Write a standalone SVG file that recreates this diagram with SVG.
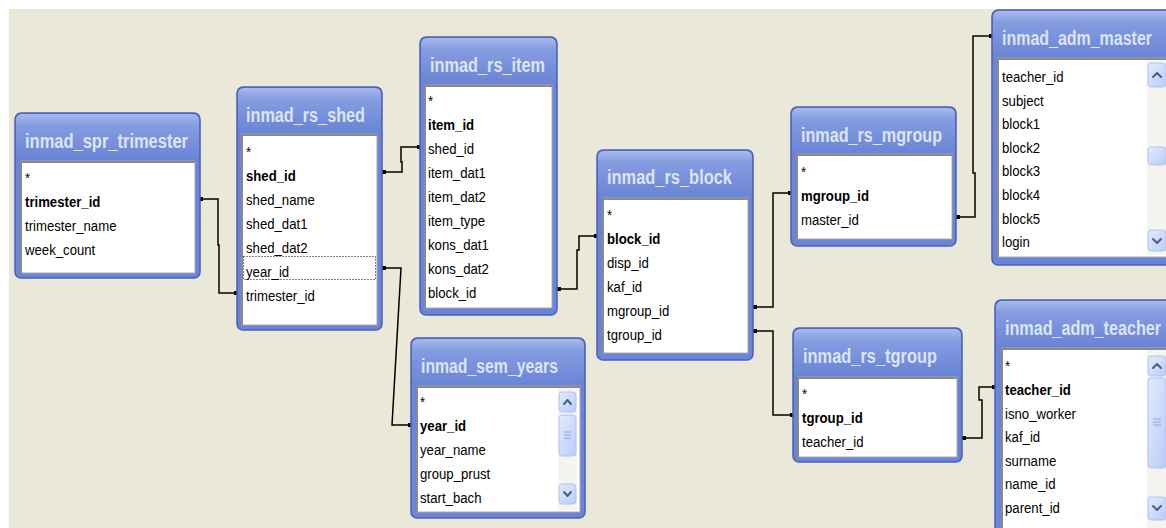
<svg xmlns="http://www.w3.org/2000/svg" width="1166" height="528" viewBox="0 0 1166 528">
<style>
.frame{fill:#6A84D6;stroke:#4B5FBC;stroke-width:1.5}
.tbar{fill:url(#tg)}
.ttl{font-family:"Liberation Sans",Arial,sans-serif;font-weight:bold;font-size:20px;fill:#DCE4F7}
.list{fill:#FFFFFF;stroke:#A8A8A8;stroke-width:1}
.sunk{stroke:#8A8A8A;stroke-width:2;fill:none}
.fld{font-family:"Liberation Sans",Arial,sans-serif;font-size:15.5px;fill:#000}
.b{font-weight:bold}
.track{fill:#F5F4EE}
.btn{fill:url(#bg);stroke:#B0C4F2;stroke-width:1}
.arr{fill:none;stroke:#4D6185;stroke-width:2;stroke-linecap:round;stroke-linejoin:round}
.grip{stroke:#8EA6E0;stroke-width:1}
.conn{fill:none;stroke:#000;stroke-width:1.5;marker-start:url(#dot);marker-end:url(#dot)}
.focus{fill:none;stroke:#000;stroke-width:1;stroke-dasharray:1 2}
</style>
<defs>
<linearGradient id="tg" x1="0" y1="0" x2="0" y2="1">
<stop offset="0" stop-color="#A8BAEE"/>
<stop offset="0.25" stop-color="#849CE0"/>
<stop offset="1" stop-color="#6A84D6"/>
</linearGradient>
<linearGradient id="bg" x1="0" y1="0" x2="1" y2="1">
<stop offset="0" stop-color="#E3EBFE"/>
<stop offset="1" stop-color="#B9CCF7"/>
</linearGradient>
<marker id="dot" viewBox="0 0 4 4" refX="2" refY="2" markerWidth="4" markerHeight="4" markerUnits="userSpaceOnUse">
<rect x="0" y="0" width="4" height="4" fill="#000"/>
</marker>
</defs>
<rect x="0" y="0" width="1166" height="528" fill="#FFFFFF"/>
<rect x="9" y="9" width="1157" height="519" fill="#EAE8D8"/>

<g id="connectors">
<path class="conn" d="M201,199 H218 V245 H219 V293 H236"/>
<path class="conn" d="M384,172 H402 V162 H401 V147 H419"/>
<path class="conn" d="M384,268 H401 L392,425 H410"/>
<path class="conn" d="M559,289 H577 V250 H579 V236 H596"/>
<path class="conn" d="M755,307 H773 V193 H790"/>
<path class="conn" d="M755,331 H773 V415 H792"/>
<path class="conn" d="M958,217 H975 V173 H973 V36 H991"/>
<path class="conn" d="M964,438 H982 V400 H979 V387 H994"/>
</g>

<g id="inmad_spr_trimester">
<rect class="frame" x="15" y="113" width="185" height="165" rx="6"/>
<rect class="tbar" x="16" y="114" width="183" height="46" rx="6"/>
<text class="ttl" x="25" y="148" textLength="163" lengthAdjust="spacingAndGlyphs">inmad_spr_trimester</text>
<rect class="list" x="21" y="161" width="174" height="112"/>
<path class="sunk" d="M21,273 V162 H195"/>
<g class="fld" transform="translate(25,0) scale(0.85,1)">
<text x="0" y="183">*</text>
<text class="b" x="0" y="207">trimester_id</text>
<text x="0" y="231">trimester_name</text>
<text x="0" y="255">week_count</text>
</g>
</g>

<g id="inmad_rs_shed">
<rect class="frame" x="237" y="87" width="145" height="243" rx="6"/>
<rect class="tbar" x="238" y="88" width="143" height="45" rx="6"/>
<text class="ttl" x="246" y="122" textLength="119" lengthAdjust="spacingAndGlyphs">inmad_rs_shed</text>
<rect class="list" x="242" y="134" width="135" height="191"/>
<path class="sunk" d="M242,325 V135 H377"/>
<rect class="focus" x="243.5" y="256.5" width="132" height="23"/>
<g class="fld" transform="translate(246,0) scale(0.85,1)">
<text x="0" y="157">*</text>
<text class="b" x="0" y="181">shed_id</text>
<text x="0" y="205">shed_name</text>
<text x="0" y="229">shed_dat1</text>
<text x="0" y="253">shed_dat2</text>
<text x="0" y="277">year_id</text>
<text x="0" y="301">trimester_id</text>
</g>
</g>

<g id="inmad_rs_item">
<rect class="frame" x="420" y="37" width="137" height="278" rx="6"/>
<rect class="tbar" x="421" y="38" width="135" height="46" rx="6"/>
<text class="ttl" x="430" y="72" textLength="115" lengthAdjust="spacingAndGlyphs">inmad_rs_item</text>
<rect class="list" x="425" y="85" width="127" height="223"/>
<path class="sunk" d="M425,308 V86 H552"/>
<g class="fld" transform="translate(428,0) scale(0.85,1)">
<text x="0" y="106">*</text>
<text class="b" x="0" y="130">item_id</text>
<text x="0" y="154">shed_id</text>
<text x="0" y="178">item_dat1</text>
<text x="0" y="202">item_dat2</text>
<text x="0" y="226">item_type</text>
<text x="0" y="250">kons_dat1</text>
<text x="0" y="274">kons_dat2</text>
<text x="0" y="298">block_id</text>
</g>
</g>

<g id="inmad_sem_years">
<rect class="frame" x="411" y="338" width="174" height="180" rx="6"/>
<rect class="tbar" x="412" y="339" width="172" height="46" rx="6"/>
<text class="ttl" x="421" y="373" textLength="137" lengthAdjust="spacingAndGlyphs">inmad_sem_years</text>
<rect class="list" x="417" y="386" width="163" height="126"/>
<path class="sunk" d="M417,512 V387 H580"/>
<rect class="track" x="558" y="388" width="19" height="122"/>
<rect class="btn" x="559" y="392" width="17" height="20" rx="3"/>
<path class="arr" d="M564,404 L567.5,400 L571,404"/>
<rect class="btn" x="559" y="415" width="17" height="41" rx="3"/>
<path class="grip" d="M564,432 H571 M564,435 H571 M564,438 H571"/>
<rect class="btn" x="559" y="484" width="17" height="20" rx="3"/>
<path class="arr" d="M564,492 L567.5,496 L571,492"/>
<g class="fld" transform="translate(420,0) scale(0.85,1)">
<text x="0" y="407">*</text>
<text class="b" x="0" y="431">year_id</text>
<text x="0" y="455">year_name</text>
<text x="0" y="479">group_prust</text>
<text x="0" y="503">start_bach</text>
</g>
</g>

<g id="inmad_rs_block">
<rect class="frame" x="597" y="150" width="156" height="210" rx="6"/>
<rect class="tbar" x="598" y="151" width="154" height="46" rx="6"/>
<text class="ttl" x="607" y="184" textLength="125" lengthAdjust="spacingAndGlyphs">inmad_rs_block</text>
<rect class="list" x="603" y="198" width="145" height="155"/>
<path class="sunk" d="M603,353 V199 H748"/>
<g class="fld" transform="translate(607,0) scale(0.85,1)">
<text x="0" y="220">*</text>
<text class="b" x="0" y="244">block_id</text>
<text x="0" y="268">disp_id</text>
<text x="0" y="292">kaf_id</text>
<text x="0" y="316">mgroup_id</text>
<text x="0" y="340">tgroup_id</text>
</g>
</g>

<g id="inmad_rs_mgroup">
<rect class="frame" x="791" y="107" width="165" height="139" rx="6"/>
<rect class="tbar" x="792" y="108" width="163" height="45" rx="6"/>
<text class="ttl" x="801" y="142" textLength="141" lengthAdjust="spacingAndGlyphs">inmad_rs_mgroup</text>
<rect class="list" x="797" y="154" width="155" height="85"/>
<path class="sunk" d="M797,239 V155 H952"/>
<g class="fld" transform="translate(801,0) scale(0.85,1)">
<text x="0" y="177">*</text>
<text class="b" x="0" y="201">mgroup_id</text>
<text x="0" y="225">master_id</text>
</g>
</g>

<g id="inmad_rs_tgroup">
<rect class="frame" x="793" y="328" width="169" height="134" rx="6"/>
<rect class="tbar" x="794" y="329" width="167" height="47" rx="6"/>
<text class="ttl" x="803" y="363" textLength="134" lengthAdjust="spacingAndGlyphs">inmad_rs_tgroup</text>
<rect class="list" x="798" y="377" width="159" height="80"/>
<path class="sunk" d="M798,457 V378 H957"/>
<g class="fld" transform="translate(802,0) scale(0.85,1)">
<text x="0" y="399">*</text>
<text class="b" x="0" y="423">tgroup_id</text>
<text x="0" y="447">teacher_id</text>
</g>
</g>

<g id="inmad_adm_master">
<rect class="frame" x="992" y="10" width="190" height="255" rx="6"/>
<rect class="tbar" x="993" y="11" width="188" height="46" rx="6"/>
<text class="ttl" x="1002" y="45" textLength="150" lengthAdjust="spacingAndGlyphs">inmad_adm_master</text>
<rect class="list" x="998" y="58" width="180" height="199"/>
<path class="sunk" d="M998,257 V59 H1178"/>
<rect class="track" x="1147" y="60" width="20" height="195"/>
<rect class="btn" x="1148" y="63" width="18" height="24" rx="3"/>
<path class="arr" d="M1153,77 L1157,73 L1161,77"/>
<rect class="btn" x="1148" y="147" width="18" height="18" rx="3"/>
<rect class="btn" x="1148" y="230" width="18" height="21" rx="3"/>
<path class="arr" d="M1153,239 L1157,243 L1161,239"/>
<g class="fld" transform="translate(1002,0) scale(0.85,1)">
<text x="0" y="82">teacher_id</text>
<text x="0" y="105.6">subject</text>
<text x="0" y="129.2">block1</text>
<text x="0" y="152.8">block2</text>
<text x="0" y="176.4">block3</text>
<text x="0" y="200">block4</text>
<text x="0" y="223.6">block5</text>
<text x="0" y="247.2">login</text>
</g>
</g>

<g id="inmad_adm_teacher">
<rect class="frame" x="995" y="300" width="190" height="245" rx="6"/>
<rect class="tbar" x="996" y="301" width="188" height="46" rx="6"/>
<text class="ttl" x="1005" y="335" textLength="156" lengthAdjust="spacingAndGlyphs">inmad_adm_teacher</text>
<rect class="list" x="1002" y="348" width="180" height="190"/>
<path class="sunk" d="M1002,538 V349 H1182"/>
<rect class="track" x="1147" y="350" width="20" height="178"/>
<rect class="btn" x="1148" y="356" width="18" height="20" rx="3"/>
<path class="arr" d="M1153,368 L1157,364 L1161,368"/>
<rect class="btn" x="1148" y="378" width="18" height="90" rx="3"/>
<path class="grip" d="M1153,419 H1161 M1153,422 H1161 M1153,425 H1161"/>
<rect class="btn" x="1148" y="497" width="18" height="23" rx="3"/>
<path class="arr" d="M1153,506 L1157,510 L1161,506"/>
<g class="fld" transform="translate(1005,0) scale(0.85,1)">
<text x="0" y="371">*</text>
<text class="b" x="0" y="395">teacher_id</text>
<text x="0" y="418.6">isno_worker</text>
<text x="0" y="442.2">kaf_id</text>
<text x="0" y="465.8">surname</text>
<text x="0" y="489.4">name_id</text>
<text x="0" y="513">parent_id</text>
</g>
</g>
</svg>
